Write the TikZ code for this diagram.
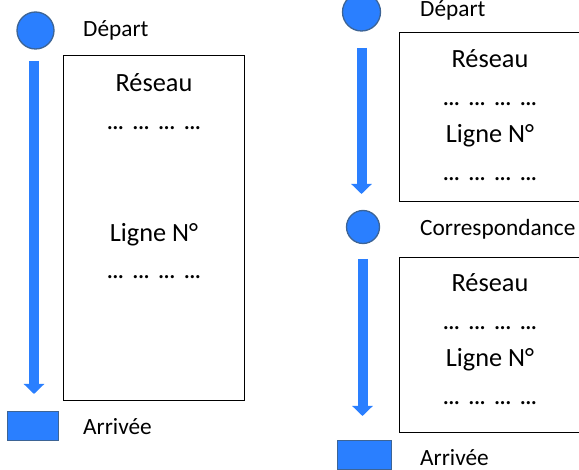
\documentclass[tikz,border=0pt]{standalone}
\usepackage{fontspec}
\setmainfont{Carlito}
\usetikzlibrary{arrows.meta}
\definecolor{stopblue}{HTML}{2A7FFF}
\definecolor{stopedge}{HTML}{3D6495}
\newcommand{\tripledot}{.\kern-0.04em.\kern-0.04em.}
\newcommand{\dotrow}{\tripledot\hspace{0.3em}\tripledot\hspace{0.3em}\tripledot\hspace{0.3em}\tripledot}
\tikzset{halt/.style={circle, fill=stopblue, draw=stopedge, line width=1.3pt, inner sep=0pt, minimum size=#1}}
\tikzset{halt/.default=37pt}
\tikzset{terminus/.style={rectangle, fill=stopblue, draw=stopedge, line width=1.3pt, inner sep=0pt, minimum width=#1, minimum height=29pt}}
\tikzset{terminus/.default=51pt}
\tikzset{ride/.style={draw=stopblue, line width=10pt, -{Triangle[width=20pt, length=10pt]}}}
\tikzset{panel/.style={draw, line width=1.3pt, minimum width=181pt, minimum height=#1, inner sep=0pt}}
\tikzset{caption/.style={anchor=base west, inner sep=0pt, font=\fontsize{23.3}{28}\selectfont}}
\tikzset{entry/.style={anchor=base, inner sep=0pt, font=\fontsize{26.3}{31}\selectfont}}

\begin{document}
\begin{tikzpicture}[x=1pt, y=-1pt]
            \useasboundingbox (0,0) rectangle (579,470);
            \clip (0,0) rectangle (579,470);
            \node[halt] (departA) at (35.5,30.5) {};
            \node[caption] (departAtext) at (83,37) {Départ};
            \node[panel=345pt] (panelA) at (154,228) {};
            \node[entry] (reseauA) at (154,92) {Réseau};
            \node[entry] (pointsAa) at (154,130) {\dotrow};
            \node[entry] (ligneA) at (154,242) {Ligne N°};
            \node[entry] (pointsAb) at (154,279) {\dotrow};
            \coordinate (rideAstart) at (34,61);
            \coordinate (rideAend) at (34,394);
            \draw[ride] (rideAstart) -- (rideAend);
            \node[terminus] (arriveeA) at (33,426) {};
            \node[caption] (arriveeAtext) at (83,435) {Arrivée};
            \node[halt=38pt] (departB) at (361.5,12) {};
            \node[caption] (departBtext) at (420,17) {Départ};
            \node[halt=33pt] (correspB) at (363,227) {};
            \node[caption] (correspBtext) at (420,236) {Correspondance};
            \node[panel=169pt] (panelB1) at (490,117) {};
            \node[panel=175pt] (panelB2) at (490,345) {};
            \foreach \p/\dy in {1/0, 2/224} {
                \node[entry] (reseauB\p) at (490,68+\dy) {Réseau};
                \node[entry] (pointsBa\p) at (490,106+\dy) {\dotrow};
                \node[entry] (ligneB\p) at (490,143+\dy) {Ligne N°};
                \node[entry] (pointsBb\p) at (490,181+\dy) {\dotrow};
            }
            \coordinate (rideB1start) at (361.5,48);
            \coordinate (rideB1end) at (361.5,194);
            \draw[ride] (rideB1start) -- (rideB1end);
            \coordinate (rideB2start) at (362.5,259);
            \coordinate (rideB2end) at (362.5,416);
            \draw[ride] (rideB2start) -- (rideB2end);
            \node[terminus=54pt] (arriveeB) at (364.5,455) {};
            \node[caption] (arriveeBtext) at (420,465.5) {Arrivée};
        \end{tikzpicture}
\end{document}
